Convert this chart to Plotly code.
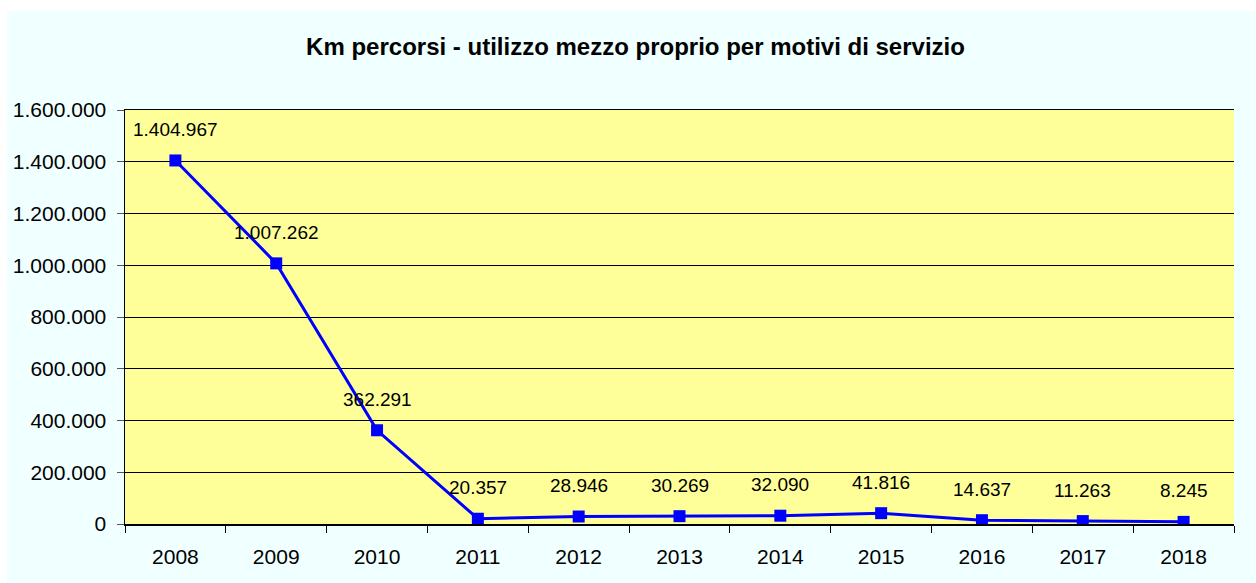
import plotly.graph_objects as go

years = ["2008", "2009", "2010", "2011", "2012", "2013", "2014", "2015", "2016", "2017", "2018"]
km = [1404967, 1007262, 362291, 20357, 28946, 30269, 32090, 41816, 14637, 11263, 8245]
y_ticks = [0, 200000, 400000, 600000, 800000, 1000000, 1200000, 1400000, 1600000]
title_text = "Km percorsi - utilizzo mezzo proprio per motivi di servizio"

FONT = "Liberation Sans, Arial, sans-serif"

def fmt(v):
    return f"{v:,}".replace(",", ".")

fig = go.Figure()
fig.add_trace(go.Scatter(
    x=years, y=km, mode="lines+markers",
    line=dict(color="#0000FF", width=3),
    marker=dict(symbol="square", size=12, color="#0000FF"),
    hoverinfo="skip", showlegend=False,
))

annotations = [
    dict(x=i, y=v, xref="x", yref="y", text=fmt(v), showarrow=False,
         yshift=31, font=dict(family=FONT, size=19, color="black"))
    for i, v in enumerate(km)
]

W, H = 1256, 583
L, R, T, B = 125, 1234, 110, 524
pw, ph = R - L, B - T

shapes = [
    dict(type="rect", xref="paper", yref="paper", layer="below",
         x0=(7 - L) / pw, x1=(W + 5 - L) / pw, y0=(B - (H + 5)) / ph, y1=(B - 11) / ph,
         fillcolor="#F0FFFF", line=dict(width=0)),
    dict(type="rect", xref="paper", yref="paper", layer="below",
         x0=0, x1=1, y0=0, y1=1, fillcolor="#FFFF99", line=dict(width=0)),
]

fig.update_layout(
    width=W, height=H,
    margin=dict(l=L, r=W - R, t=T, b=H - B, autoexpand=False),
    paper_bgcolor="white", plot_bgcolor="rgba(0,0,0,0)",
    separators=",.",
    font=dict(family=FONT, size=20, color="black"),
    title=dict(text="<b>" + title_text + "</b>", x=635.5 / W, xref="container",
               xanchor="center", y=1 - 47 / H, yanchor="middle",
               font=dict(family=FONT, size=24, color="black")),
    shapes=shapes,
    annotations=annotations,
    xaxis=dict(type="category", range=[-0.5, len(years) - 0.5], autorange=False,
               tickson="boundaries", ticks="outside", ticklen=7, tickangle=0,
               tickcolor="black", showline=True, linecolor="black", linewidth=1.5,
               mirror=True, showgrid=False, tickfont=dict(size=21), zeroline=False,
               ticklabelstandoff=13, automargin=False),
    yaxis=dict(range=[0, 1600000], autorange=False, tickvals=y_ticks, tickformat=",",
               ticks="outside", ticklen=7, tickcolor="#555555", showline=True,
               linecolor="black", linewidth=1.5, gridcolor="black", gridwidth=1,
               zeroline=False, tickfont=dict(size=21), ticklabelstandoff=6,
               automargin=False),
)

fig.write_html(
    "out.html",
    config={"displayModeBar": False, "staticPlot": True},
    post_script="document.body.style.margin='0';document.body.style.overflow='hidden';",
)
